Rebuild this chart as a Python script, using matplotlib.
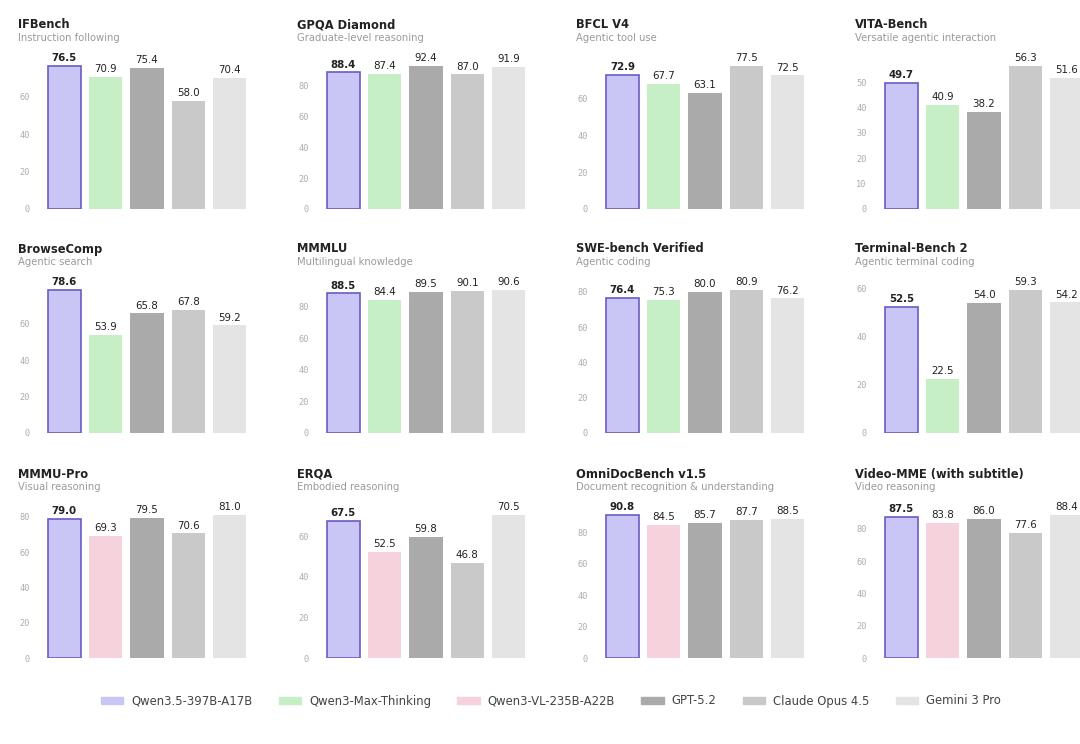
import matplotlib
matplotlib.use("Agg")
import matplotlib.pyplot as plt
from matplotlib.patches import Rectangle
from matplotlib.ticker import MaxNLocator

# benchmark data, one list per panel (order: Qwen3.5, 2nd Qwen, GPT-5.2, Claude, Gemini)
titles = [
    "IFBench", "GPQA Diamond", "BFCL V4", "VITA-Bench",
    "BrowseComp", "MMMLU", "SWE-bench Verified", "Terminal-Bench 2",
    "MMMU-Pro", "ERQA", "OmniDocBench v1.5", "Video-MME (with subtitle)",
]
subtitles = [
    "Instruction following", "Graduate-level reasoning", "Agentic tool use",
    "Versatile agentic interaction",
    "Agentic search", "Multilingual knowledge", "Agentic coding",
    "Agentic terminal coding",
    "Visual reasoning", "Embodied reasoning",
    "Document recognition & understanding", "Video reasoning",
]
ifbench = [76.5, 70.9, 75.4, 58.0, 70.4]
gpqa = [88.4, 87.4, 92.4, 87.0, 91.9]
bfcl = [72.9, 67.7, 63.1, 77.5, 72.5]
vita = [49.7, 40.9, 38.2, 56.3, 51.6]
browsecomp = [78.6, 53.9, 65.8, 67.8, 59.2]
mmmlu = [88.5, 84.4, 89.5, 90.1, 90.6]
swebench = [76.4, 75.3, 80.0, 80.9, 76.2]
terminal = [52.5, 22.5, 54.0, 59.3, 54.2]
mmmu_pro = [79.0, 69.3, 79.5, 70.6, 81.0]
erqa = [67.5, 52.5, 59.8, 46.8, 70.5]
omnidoc = [90.8, 84.5, 85.7, 87.7, 88.5]
videomme = [87.5, 83.8, 86.0, 77.6, 88.4]
all_values = [ifbench, gpqa, bfcl, vita,
              browsecomp, mmmlu, swebench, terminal,
              mmmu_pro, erqa, omnidoc, videomme]

legend_names = ["Qwen3.5-397B-A17B", "Qwen3-Max-Thinking", "Qwen3-VL-235B-A22B",
                "GPT-5.2", "Claude Opus 4.5", "Gemini 3 Pro"]
legend_colors = ["#c9c5f5", "#c6efc6", "#f6d3dc", "#aaaaaa", "#c9c9c9", "#e4e4e4"]
edge_main = "#6a5cc4"

W, H = 1080, 744
fig = plt.figure(figsize=(W / 100, H / 100), dpi=100)

col_left = [38 + 279 * c for c in range(4)]
row_base = [209, 433, 658]
ax_w, ax_h = 218, 145

for i, vals in enumerate(all_values):
    r, c = divmod(i, 4)
    left = col_left[c]
    base = row_base[r]
    ax = fig.add_axes([left / W, 1 - base / H, ax_w / W, ax_h / H])
    second = legend_colors[2] if r == 2 else legend_colors[1]
    cols = [legend_colors[0], second] + legend_colors[3:]
    xs = range(len(vals))
    bars = ax.bar(xs, vals, width=0.8, color=cols, linewidth=0)
    bars[0].set_edgecolor(edge_main)
    bars[0].set_linewidth(1.2)
    for j, (x, v) in enumerate(zip(xs, vals)):
        ax.annotate(f"{v:.1f}", (x, v), xytext=(0, 2), textcoords="offset points",
                    ha="center", va="bottom", fontsize=7.4, color="#222222",
                    fontweight="bold" if j == 0 else "normal", clip_on=False)
    ax.set_xlim(-0.64, 4.64)
    ax.set_ylim(0, max(vals) * 1.015)
    ax.yaxis.set_major_locator(MaxNLocator(nbins=6, steps=[1, 2, 2.5, 5, 10]))
    ax.set_xticks([])
    ax.tick_params(axis="y", length=0, pad=6, labelsize=6.2, labelcolor="#adadad")
    for lab in ax.get_yticklabels():
        lab.set_family("DejaVu Sans Mono")
    for s in ax.spines.values():
        s.set_visible(False)
    top = base - 146
    fig.text((left - 20) / W, 1 - (top - 34.5) / H, titles[i], fontsize=8.3,
             fontweight="bold", color="#222222", va="baseline", ha="left")
    fig.text((left - 20) / W, 1 - (top - 22) / H, subtitles[i], fontsize=7.2,
             color="#9a9a9a", va="baseline", ha="left")

handles = [Rectangle((0, 0), 1, 1, color=col) for col in legend_colors]
fig.legend(handles, legend_names, loc="center", bbox_to_anchor=(551 / W, 43 / H),
           ncol=6, frameon=False, fontsize=8.4, handlelength=1.9, handleheight=0.6,
           handletextpad=0.7, columnspacing=2.25, labelcolor="#444444")

fig.savefig("out.png", dpi=100, facecolor="white")
